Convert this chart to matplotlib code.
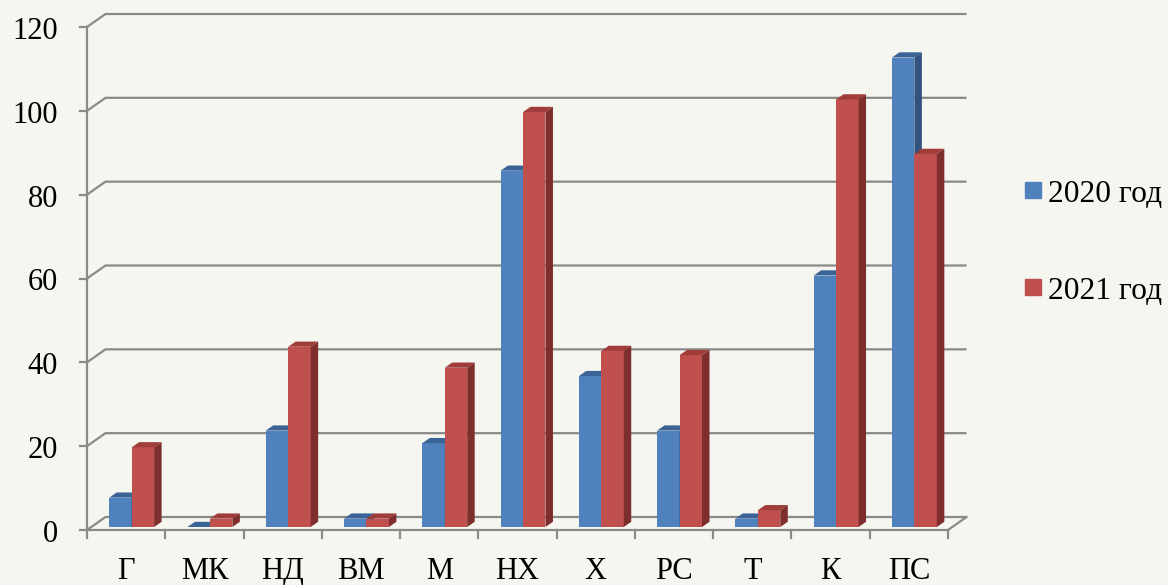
import matplotlib.pyplot as plt
import numpy as np
from matplotlib.patches import Polygon, Rectangle

plt.rcParams['font.family'] = ['Liberation Serif', 'DejaVu Serif']

categories = ['Г', 'МК', 'НД', 'ВМ', 'М', 'НХ', 'Х', 'РС', 'Т', 'К', 'ПС']
y2020 = [7, 0, 23, 2, 20, 85, 36, 23, 2, 60, 112]
y2021 = [19, 2, 43, 2, 38, 99, 42, 41, 4, 102, 89]
series = ['2020 год', '2021 год']

W, H = 1168, 585
bg = '#f4f6ef'
fig = plt.figure(figsize=(W / 100, H / 100), dpi=100)
fig.patch.set_facecolor(bg)

# front plane of the plot box, in pixels
x0, x1 = 87, 948
yb, yt = 530, 27
ax = fig.add_axes([x0 / W, 1 - yb / H, (x1 - x0) / W, (yb - yt) / H])
ax.set_xlim(-0.5, 10.5)
ax.set_ylim(0, 120)
ax.axis('off')

px = (x1 - x0) / 11      # pixels per category
py = (yb - yt) / 120     # pixels per unit

# fake 3D depth offsets (data units)
wall_dx, wall_dy = 18.5 / px, 13 / py
bar_dx, bar_dy = 7.5 / px, 5.2 / py
base_dx, base_dy = 5.5 / px, 3.0 / py

fs = 22
grid_c = '#8a8a8a'
lw = 1.6
for v in range(0, 121, 20):
    ax.plot([-0.5, -0.5 + wall_dx, 10.5 + wall_dx], [v, v + wall_dy, v + wall_dy],
            color=grid_c, lw=lw, clip_on=False, zorder=1, solid_capstyle='butt')
    ax.plot([-0.5 - 7 / px, -0.5], [v, v], color=grid_c, lw=lw, clip_on=False, zorder=1)
    ax.text(-0.5 - 29 / px, v - 12 / py, str(v), ha='right', va='baseline', fontsize=fs)

# floor edges and front axes
ax.plot([10.5, 10.5 + wall_dx], [0, wall_dy], color=grid_c, lw=lw, clip_on=False, zorder=1)
ax.plot([-0.5, -0.5], [0, 120], color=grid_c, lw=lw, clip_on=False, zorder=1)
ax.plot([-0.5, 10.5], [0, 0], color=grid_c, lw=lw, clip_on=False, zorder=5)
for i in range(len(categories) + 1):
    ax.plot([i - 0.5, i - 0.5], [0, -8 / py], color=grid_c, lw=lw, clip_on=False, zorder=5)

for i, c in enumerate(categories):
    ax.text(i, -49 / py, c, ha='center', va='baseline', fontsize=fs)

# bars: front face + top + side
w = 0.287
cx = np.arange(len(categories)) + base_dx
colors = [('#4f81bd', '#3a6396', '#31527f'), ('#c0504d', '#a03d3a', '#7e2f2d')]
for k, vals in enumerate([y2020, y2021]):
    face, top, side = colors[k]
    left = cx - w + k * w
    z = 3 + k
    ax.bar(left, vals, width=w, bottom=base_dy, align='edge', color=face,
           lw=0, zorder=z, clip_on=False)
    for l, v in zip(left, vals):
        b = base_dy
        ax.add_patch(Polygon([(l, b + v), (l + w, b + v), (l + w + bar_dx, b + v + bar_dy),
                              (l + bar_dx, b + v + bar_dy)], closed=True, color=top,
                             lw=0, zorder=z, clip_on=False))
        ax.add_patch(Polygon([(l + w, b), (l + w + bar_dx, b + bar_dy),
                              (l + w + bar_dx, b + v + bar_dy), (l + w, b + v)], closed=True,
                             color=side, lw=0, zorder=z, clip_on=False))

# legend
for k, (name, sq, base) in enumerate(zip(series, [182, 279], [201.5, 299.3])):
    fig.patches.append(Rectangle((1025 / W, 1 - (sq + 16) / H), 16 / W, 16 / H,
                                 transform=fig.transFigure, color=colors[k][0]))
    fig.text(1048 / W, 1 - base / H, name, ha='left', va='baseline', fontsize=22.7)

fig.savefig('out.png', dpi=100, facecolor=bg)
